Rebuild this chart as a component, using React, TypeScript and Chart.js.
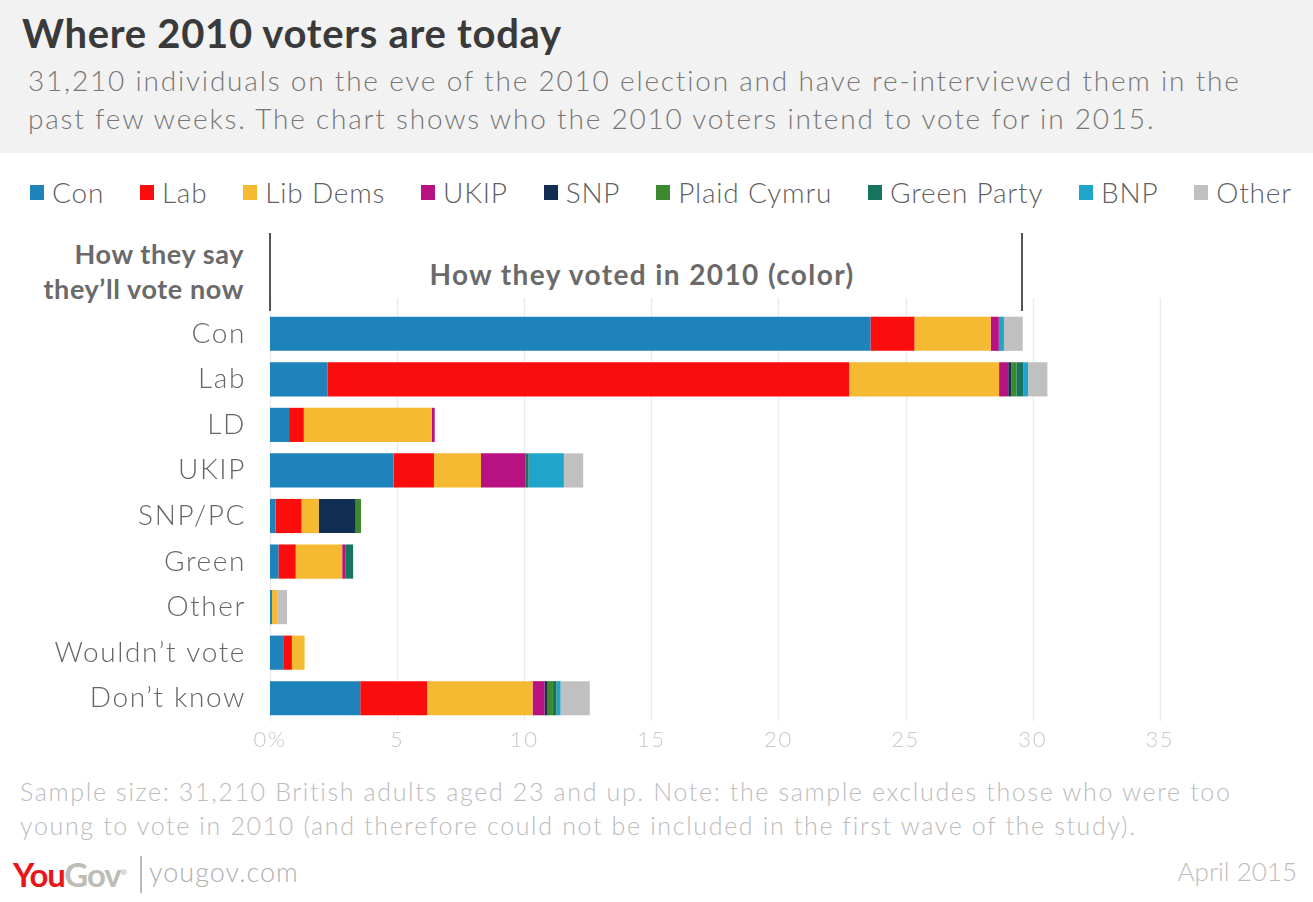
import React, { useEffect, useRef } from "react";
import { Chart, registerables } from "chart.js";

Chart.register(...registerables);

// rows: how they say they'll vote now
const categories = ["Con", "Lab", "LD", "UKIP", "SNP/PC", "Green", "Other", "Wouldn’t vote", "Don’t know"];

// stacks: how they voted in 2010 (% of sample)
const conValues = [23.62, 2.27, 0.75, 4.86, 0.22, 0.33, 0.08, 0.52, 3.55];
const labValues = [1.73, 20.51, 0.58, 1.59, 1.02, 0.68, 0, 0.34, 2.63];
const libDemValues = [3.0, 5.9, 5.03, 1.85, 0.68, 1.83, 0.21, 0.5, 4.15];
const ukipValues = [0.32, 0.36, 0.12, 1.74, 0, 0.12, 0, 0, 0.47];
const snpValues = [0, 0.12, 0, 0, 1.45, 0, 0, 0, 0.12];
const plaidValues = [0, 0.2, 0, 0, 0.21, 0, 0, 0, 0.21];
const greenValues = [0, 0.28, 0, 0.13, 0, 0.31, 0, 0, 0.14];
const bnpValues = [0.2, 0.18, 0, 1.39, 0, 0, 0, 0, 0.16];
const otherValues = [0.74, 0.76, 0, 0.76, 0, 0, 0.38, 0, 1.15];

const seriesNames = ["Con", "Lab", "Lib Dems", "UKIP", "SNP", "Plaid Cymru", "Green Party", "BNP", "Other"];
const seriesValues = [conValues, labValues, libDemValues, ukipValues, snpValues, plaidValues, greenValues, bnpValues, otherValues];
const seriesColors = ["#1f83bb", "#fc0d0d", "#f5b932", "#b81182", "#122e52", "#3d8a2e", "#17745e", "#1fa4ca", "#c0c0c0"];

const xTickMax = 35;
const bracketEnd = 29.6;

const FONT = "Lato, 'Open Sans', sans-serif";

const gridPlugin = {
  id: "extGrid",
  beforeDraw(chart: any) {
    // Raleway-ish width from Lato
    chart.ctx.letterSpacing = "1.6px";
  },
  beforeDatasetsDraw(chart: any) {
    const { ctx, chartArea, scales } = chart;
    const x = scales.x;
    ctx.save();
    ctx.strokeStyle = "#ececec";
    ctx.lineWidth = 1.5;
    x.ticks.forEach((_t: any, i: number) => {
      const px = Math.round(x.getPixelForTick(i)) + 0.5;
      ctx.beginPath();
      ctx.moveTo(px, chartArea.top - 13);
      ctx.lineTo(px, chartArea.bottom);
      ctx.stroke();
    });
    ctx.restore();
  },
  afterDraw(chart: any) {
    const { ctx, chartArea, scales } = chart;
    const x = scales.x;
    ctx.save();
    ctx.strokeStyle = "#555";
    ctx.lineWidth = 2;
    [0, bracketEnd].forEach((v) => {
      const px = Math.round(x.getPixelForValue(v));
      ctx.beginPath();
      ctx.moveTo(px, chartArea.top - 78);
      ctx.lineTo(px, chartArea.top);
      ctx.stroke();
    });
    ctx.restore();
  },
};

function BarChart() {
  const canvasRef = useRef<HTMLCanvasElement>(null);

  useEffect(() => {
    if (!canvasRef.current) return;
    const chart = new Chart(canvasRef.current, {
      type: "bar",
      data: {
        labels: categories,
        datasets: seriesNames.map((name, i) => ({
          label: name,
          data: seriesValues[i],
          backgroundColor: seriesColors[i],
          borderWidth: 0,
          barPercentage: 0.75,
          categoryPercentage: 1,
        })),
      },
      options: {
        indexAxis: "y",
        animation: false,
        responsive: false,
        maintainAspectRatio: false,
        layout: { padding: { top: 86, right: 77, bottom: 0, left: 0 } },
        plugins: { legend: { display: false }, tooltip: { enabled: false } },
        scales: {
          x: {
            stacked: true,
            min: 0,
            max: 38,
            afterFit: (s: any) => {
              s.height = 44;
            },
            grid: { display: false, drawTicks: false },
            border: { display: false },
            ticks: {
              stepSize: 5,
              includeBounds: false,
              padding: 6,
              color: "#c8c8c8",
              font: { family: FONT, size: 22, weight: 300 },
              callback: (v: any) => (Number(v) > xTickMax ? "" : Number(v) === 0 ? "0%" : String(v)),
            },
          },
          y: {
            stacked: true,
            afterFit: (s: any) => {
              s.width = 270;
            },
            grid: { display: false, drawTicks: false },
            border: { display: false },
            ticks: {
              padding: 24,
              color: "#666666",
              font: { family: FONT, size: 28, weight: 300 },
            },
          },
        },
      },
      plugins: [gridPlugin],
    });
    return () => chart.destroy();
  }, []);

  return <canvas ref={canvasRef} width={1313} height={540} style={{ position: "absolute", left: 0, top: 225, width: 1313, height: 540 }} />;
}

export default function App() {
  useEffect(() => {
    document.body.style.margin = "0";
  }, []);

  return (
    <div style={{ position: "relative", width: 1313, height: 902, background: "#fff", fontFamily: FONT, overflow: "hidden" }}>
      <div style={{ position: "absolute", left: 0, top: 0, width: 1313, height: 153, background: "#f2f2f2" }} />
      <div style={{ position: "absolute", left: 22, top: 9, fontSize: 40, letterSpacing: 0.7, fontWeight: 700, color: "#3a3a3a", whiteSpace: "nowrap" }}>
        Where 2010 voters are today
      </div>
      <div style={{ position: "absolute", left: 28, top: 61, fontSize: 28, letterSpacing: 1.8, lineHeight: "38px", color: "#777", width: 1300, fontWeight: 300, whiteSpace: "nowrap" }}>
        31,210 individuals on the eve of the 2010 election and have re-interviewed them in the
        <br />
        past few weeks. The chart shows who the 2010 voters intend to vote for in 2015.
      </div>

      <div style={{ position: "absolute", left: 30, top: 174, width: 1262, display: "flex", justifyContent: "space-between", alignItems: "center", height: 36 }}>
        {seriesNames.map((name, i) => (
          <div key={name} style={{ display: "flex", alignItems: "center", fontSize: 28, letterSpacing: 0.8, color: "#5f5f5f", fontWeight: 300, whiteSpace: "nowrap" }}>
            <span style={{ display: "inline-block", width: 14, height: 15, background: seriesColors[i], marginRight: 8 }} />
            {name}
          </div>
        ))}
      </div>

      <div style={{ position: "absolute", right: 1313 - 244, top: 236, fontSize: 27, letterSpacing: 0.6, lineHeight: "35px", fontWeight: 700, color: "#6a6a6a", textAlign: "right", whiteSpace: "nowrap" }}>
        How they say
        <br />
        they’ll vote now
      </div>
      <div style={{ position: "absolute", left: 642, top: 257, transform: "translateX(-50%)", fontSize: 28, letterSpacing: 1.4, fontWeight: 700, color: "#6a6a6a", whiteSpace: "nowrap" }}>
        How they voted in 2010 (color)
      </div>

      <BarChart />

      <div style={{ position: "absolute", left: 20, top: 774, fontSize: 25, letterSpacing: 1.65, lineHeight: "34px", color: "#bcbcbc", width: 1300, fontWeight: 300, whiteSpace: "nowrap" }}>
        Sample size: 31,210 British adults aged 23 and up. Note: the sample excludes those who were too
        <br />
        young to vote in 2010 (and therefore could not be included in the first wave of the study).
      </div>

      <div style={{ position: "absolute", left: 13, top: 854, fontSize: 33, fontWeight: 700, letterSpacing: -1.2, whiteSpace: "nowrap" }}>
        <span style={{ color: "#e8151b" }}>You</span>
        <span style={{ color: "#bdbdb5" }}>Gov</span>
        <sup style={{ fontSize: 8, color: "#bdbdb5" }}>®</sup>
      </div>
      <div style={{ position: "absolute", left: 140, top: 856, width: 1.5, height: 37, background: "#bbb" }} />
      <div style={{ position: "absolute", left: 149, top: 855, fontSize: 27, letterSpacing: 1, color: "#b0b0b0", fontWeight: 300 }}>yougov.com</div>
      <div style={{ position: "absolute", right: 16, top: 855, fontSize: 26, color: "#bcbcbc", fontWeight: 300 }}>April 2015</div>
    </div>
  );
}
